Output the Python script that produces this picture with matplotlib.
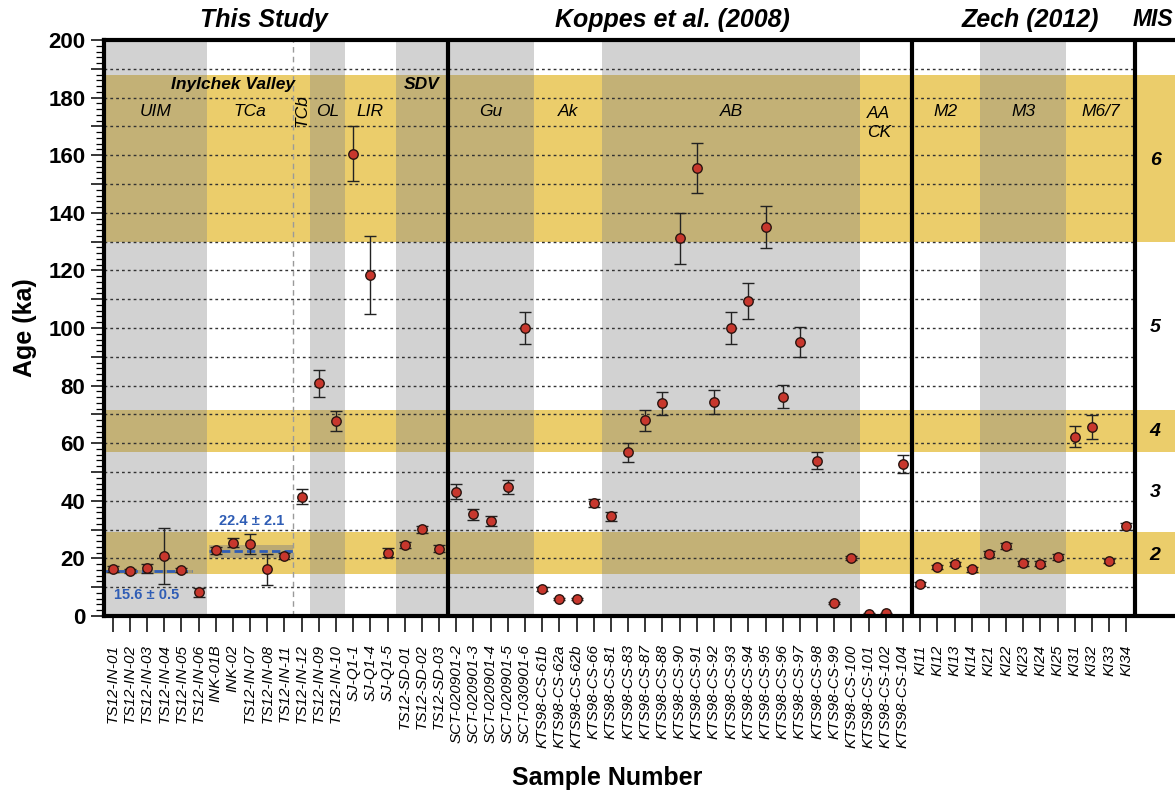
import matplotlib.pyplot as plt
from matplotlib.patches import Rectangle
import numpy

plt.rcParams['font.family'] = ['Liberation Sans', 'DejaVu Sans']

# sample names, left to right
samples = ['TS12-IN-01', 'TS12-IN-02', 'TS12-IN-03', 'TS12-IN-04', 'TS12-IN-05', 'TS12-IN-06',
           'INK-01B', 'INK-02', 'TS12-IN-07', 'TS12-IN-08', 'TS12-IN-11', 'TS12-IN-12',
           'TS12-IN-09', 'TS12-IN-10', 'SJ-Q1-1', 'SJ-Q1-4', 'SJ-Q1-5',
           'TS12-SD-01', 'TS12-SD-02', 'TS12-SD-03',
           'SCT-020901-2', 'SCT-020901-3', 'SCT-020901-4', 'SCT-020901-5', 'SCT-030901-6',
           'KTS98-CS-61b', 'KTS98-CS-62a', 'KTS98-CS-62b', 'KTS98-CS-66', 'KTS98-CS-81',
           'KTS98-CS-83', 'KTS98-CS-87', 'KTS98-CS-88', 'KTS98-CS-90', 'KTS98-CS-91',
           'KTS98-CS-92', 'KTS98-CS-93', 'KTS98-CS-94', 'KTS98-CS-95', 'KTS98-CS-96',
           'KTS98-CS-97', 'KTS98-CS-98', 'KTS98-CS-99', 'KTS98-CS-100', 'KTS98-CS-101',
           'KTS98-CS-102', 'KTS98-CS-104',
           'KI11', 'KI12', 'KI13', 'KI14', 'KI21', 'KI22', 'KI23', 'KI24', 'KI25',
           'KI31', 'KI32', 'KI33', 'KI34']

# ages in ka and 1 sigma errors
ages = [16.2, 15.7, 16.5, 20.8, 16.0, 8.2,
        22.9, 25.5, 25.0, 16.2, 20.9, 41.4,
        80.8, 67.8, 160.5, 118.4, 22.0,
        24.7, 30.1, 23.4,
        43.2, 35.3, 32.9, 44.8, 99.9,
        9.4, 5.9, 5.9, 39.2, 34.6,
        56.8, 67.9, 73.8, 131.1, 155.6,
        74.3, 99.9, 109.4, 135.2, 76.2,
        95.3, 53.9, 4.5, 20.1, 0.6,
        0.9, 52.7,
        11.1, 17.0, 18.1, 16.2, 21.4, 24.3, 18.3, 18.2, 20.5,
        62.3, 65.5, 19.1, 31.1]
errors = [1.0, 0.7, 1.5, 9.8, 0.8, 1.6,
          1.2, 1.5, 3.3, 5.4, 1.0, 2.6,
          4.7, 3.4, 9.5, 13.6, 1.5,
          1.0, 1.3, 1.2,
          2.5, 2.0, 1.8, 2.5, 5.5,
          0.6, 0.5, 0.5, 1.5, 1.5,
          3.2, 3.5, 3.9, 9.0, 8.8,
          4.2, 5.5, 6.3, 7.3, 4.1,
          5.2, 3.0, 0.5, 0.8, 0.3,
          0.3, 3.2,
          0.6, 0.8, 0.8, 0.8, 1.0, 1.0, 0.8, 0.8, 1.0,
          3.5, 4.2, 0.8, 1.2]

# landform groups: label, first sample, last sample, shaded
groups = [('UIM', 0, 5, True), ('TCa', 6, 10, False), ('TCb', 11, 11, False),
          ('OL', 12, 13, True), ('LIR', 14, 16, False), ('', 17, 19, True),
          ('Gu', 20, 24, True), ('Ak', 25, 28, False), ('AB', 29, 43, True),
          ('AA\nCK', 44, 46, False),
          ('M2', 47, 50, False), ('M3', 51, 55, True), ('M6/7', 56, 59, False)]

studies = ['This Study', 'Koppes et al. (2008)', 'Zech (2012)']
study_ends = [19, 46, 59]

# marine isotope stages
mis_bands = [(14.5, 29.0), (57.0, 71.5), (130.0, 188.0)]
mis_labels = ['2', '3', '4', '5', '6']
mis_label_ages = [21, 42.8, 64, 100, 158]

# mean ages of the two moraine groups
mean_ages = [15.6, 22.4]
mean_errs = [0.5, 2.1]

gray = '#D2D2D2'
yellow = '#EBCD6B'
olive = '#C3B176'
blue = '#2F5DB5'

fig = plt.figure(figsize=(11.75, 7.93), dpi=100)
ax = fig.add_axes([104 / 1175, 1 - 616 / 793, 1 - 104 / 1175, 576 / 793])
x = numpy.arange(len(samples))
xmax = 61.83

# background columns and MIS bands
for name, a, b, shaded in groups:
    if shaded:
        ax.add_patch(Rectangle((a - 0.5, 0), b - a + 1, 200, color=gray, lw=0, zorder=0))
for lo, hi in mis_bands:
    ax.add_patch(Rectangle((-0.5, lo), xmax + 0.5, hi - lo, color=yellow, lw=0, zorder=0.1))
    for name, a, b, shaded in groups:
        if shaded:
            ax.add_patch(Rectangle((a - 0.5, lo), b - a + 1, hi - lo, color=olive, lw=0, zorder=0.2))

# dotted grid lines, only over the data part
ax.hlines(numpy.arange(10, 200, 10), -0.5, study_ends[-1] + 0.5, colors='#333333',
          linestyles=(0, (2, 2.2)), lw=1, zorder=1)

# TCa / TCb divider
ax.vlines(10.5, 0, 200, colors='#9a9a9a', linestyles=(0, (4, 3)), lw=1, zorder=1)

# mean ages with their uncertainty
mean_spans = [(-0.5, 4.6), (5.6, 10.5)]
for m, e, (x0, x1) in zip(mean_ages, mean_errs, mean_spans):
    ax.add_patch(Rectangle((x0, m - e), x1 - x0, 2 * e, color='#7f7f7f', alpha=0.45, lw=0, zorder=1.5))
    ax.hlines(m, x0, x1, colors=blue, linestyles=(0, (3, 1.5)), lw=2, zorder=2)
ax.text(2.0, 7.3, '%.1f \u00b1 %.1f' % (mean_ages[0], mean_errs[0]), color=blue,
        fontsize=10.5, fontweight='bold', ha='center', va='center', zorder=5)
ax.text(8.1, 33.0, '%.1f \u00b1 %.1f' % (mean_ages[1], mean_errs[1]), color=blue,
        fontsize=10.5, fontweight='bold', ha='center', va='center', zorder=5)

# samples
ax.errorbar(x, ages, yerr=errors, fmt='o', mfc='#C8372D', mec='#2a1510', mew=1, ms=6.8,
            ecolor='#222222', elinewidth=1, capsize=4.5, capthick=1, zorder=3)

# study separators
for e in study_ends:
    ax.axvline(e + 0.5, color='k', lw=3, zorder=4)

# group labels
for name, a, b, shaded in groups:
    if name == 'TCb':
        ax.text(a, 175.5, name, rotation=90, fontsize=12.5, style='italic', ha='center', va='center')
    elif '\n' in name:
        ax.text((a + b) / 2.0 - 0.4, 171.2, name, fontsize=12.5, style='italic', ha='center',
                va='center', linespacing=1.35)
    elif name:
        ax.text((a + b) / 2.0, 175, name, fontsize=12.5, style='italic', ha='center', va='center')
ax.text(7.0, 184.5, 'Inylchek Valley', fontsize=12.5, style='italic', fontweight='bold', ha='center', va='center')
ax.text(18.0, 184.5, 'SDV', fontsize=12.5, style='italic', fontweight='bold', ha='center', va='center')

# study titles
title_x = [8.8, 32.6, 53.4]
for t, tx in zip(studies, title_x):
    ax.text(tx, 207, t, fontsize=18, style='italic', fontweight='bold', ha='center', va='center', clip_on=False)
ax.text(59.35, 207, 'MIS', fontsize=16.5, style='italic', fontweight='bold', ha='left', va='center', clip_on=False)

for lab, a in zip(mis_labels, mis_label_ages):
    ax.text(60.67, a, lab, fontsize=14, style='italic', fontweight='bold', ha='center', va='center')

ax.set_xlim(-0.5, xmax)
ax.set_ylim(0, 200)
ax.set_xticks(x)
ax.set_xticklabels(samples, rotation=90, fontsize=11, style='italic')
yt = numpy.arange(0, 201, 10)
ax.set_yticks(yt)
ax.set_yticklabels([str(v) if v % 20 == 0 else '' for v in yt], fontsize=16, fontweight='bold')
ax.set_yticks(numpy.arange(0, 201, 2), minor=True)
ax.tick_params(axis='x', length=11.5, width=1.1, pad=9)
ax.tick_params(axis='y', which='major', length=9.5, width=1.1, pad=4)
ax.tick_params(axis='y', which='minor', length=6, width=0.9)
ax.tick_params(axis='x', which='minor', bottom=False)

for s in ['left', 'bottom', 'top']:
    ax.spines[s].set_linewidth(3)
    ax.spines[s].set_zorder(6)
ax.spines['right'].set_visible(False)

ax.set_ylabel('Age (ka)', fontsize=18, fontweight='bold', labelpad=8)
fig.text(607 / 1175, 1 - 778 / 793, 'Sample Number', fontsize=18, fontweight='bold', ha='center', va='center')

fig.savefig('out.png', dpi=100)
